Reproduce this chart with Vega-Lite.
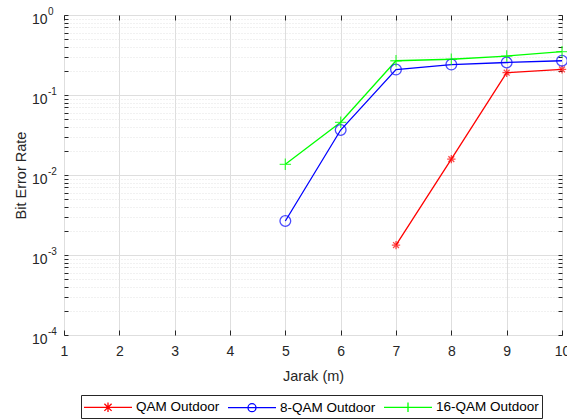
{
  "$schema": "https://vega.github.io/schema/vega-lite/v6.json",
  "width": 498,
  "height": 320,
  "autosize": {"type": "none"},
  "padding": {"left": 64, "top": 15, "right": 5, "bottom": 84},
  "background": "white",
  "config": {
    "font": "Liberation Sans",
    "view": {"stroke": "#262626", "strokeWidth": 1},
    "axis": {
      "labelFont": "Liberation Sans",
      "titleFont": "Liberation Sans",
      "labelColor": "#262626",
      "titleColor": "#262626",
      "labelFontSize": 14,
      "titleFontSize": 14.5,
      "titleFontWeight": "normal",
      "domainColor": "#262626",
      "tickColor": "#262626",
      "gridColor": "#dedede",
      "gridWidth": 1
    }
  },
  "datasets": {
    "ber": [
      {"series": "QAM Outdoor", "x": 7, "y": 0.00133},
      {"series": "QAM Outdoor", "x": 8, "y": 0.0158},
      {"series": "QAM Outdoor", "x": 9, "y": 0.19},
      {"series": "QAM Outdoor", "x": 10, "y": 0.209},
      {"series": "8-QAM Outdoor", "x": 5, "y": 0.00266},
      {"series": "8-QAM Outdoor", "x": 6, "y": 0.0365},
      {"series": "8-QAM Outdoor", "x": 7, "y": 0.208},
      {"series": "8-QAM Outdoor", "x": 8, "y": 0.24},
      {"series": "8-QAM Outdoor", "x": 9, "y": 0.255},
      {"series": "8-QAM Outdoor", "x": 10, "y": 0.268},
      {"series": "16-QAM Outdoor", "x": 5, "y": 0.0136},
      {"series": "16-QAM Outdoor", "x": 6, "y": 0.0456},
      {"series": "16-QAM Outdoor", "x": 7, "y": 0.268},
      {"series": "16-QAM Outdoor", "x": 8, "y": 0.28},
      {"series": "16-QAM Outdoor", "x": 9, "y": 0.307},
      {"series": "16-QAM Outdoor", "x": 10, "y": 0.348}
    ],
    "exps": [
      {"y": 1, "e": "0"},
      {"y": 0.1, "e": "-1"},
      {"y": 0.01, "e": "-2"},
      {"y": 0.001, "e": "-3"},
      {"y": 0.0001, "e": "-4"}
    ]
  },
  "data": {"name": "ber"},
  "layer": [
    {
      "mark": {"type": "line", "strokeWidth": 1.3, "clip": true},
      "encoding": {
        "x": {"field": "x", "type": "quantitative",
          "scale": {"domain": [1, 10], "nice": false, "zero": false},
          "axis": {"title": "Jarak (m)", "values": [1,2,3,4,5,6,7,8,9,10], "tickSize": -5, "labelPadding": 14, "titlePadding": 11, "domain": false, "labelFlush": false}},
        "y": {"field": "y", "type": "quantitative",
          "scale": {"type": "log", "domain": [0.0001, 1], "nice": false},
          "axis": {"title": "Bit Error Rate", "titlePadding": 3, "domain": false,
            "values": [0.0001,0.0002,0.0003,0.0004,0.0005,0.0006,0.0007,0.0008,0.0009,0.001,0.002,0.003,0.004,0.005,0.006,0.007,0.008,0.009,0.01,0.02,0.03,0.04,0.05,0.06,0.07,0.08,0.09,0.1,0.2,0.3,0.4,0.5,0.6,0.7,0.8,0.9,1],
            "tickSize": -4, "labelPadding": 21, "labelOffset": 4, "labelFlush": false,
            "labelExpr": "indexof([1,0.1,0.01,0.001,0.0001], datum.value) >= 0 ? '10' : ''",
            "gridDash": {"condition": {"test": "indexof([1,0.1,0.01,0.001,0.0001], datum.value) >= 0", "value": []}, "value": [1, 2]},
            "gridColor": {"condition": {"test": "indexof([1,0.1,0.01,0.001,0.0001], datum.value) >= 0", "value": "#dedede"}, "value": "#e3e3e3"}}},
        "color": {"field": "series", "type": "nominal",
          "scale": {"domain": ["QAM Outdoor", "8-QAM Outdoor", "16-QAM Outdoor"], "range": ["#ff0000", "#0000ff", "#00ff00"]},
          "legend": {
            "title": null, "orient": "none", "legendX": 17, "legendY": 380,
            "direction": "horizontal", "strokeColor": "#262626", "fillColor": "white",
            "padding": 3, "labelFont": "Liberation Sans", "labelFontSize": 13.5, "labelColor": "#000000",
            "symbolSize": 256, "symbolOffset": 15, "labelOffset": 19, "columnPadding": 5,
            "symbolStrokeWidth": 1.3,
            "encode": {"symbols": {"update": {
              "shape": {"signal": "datum.value == 'QAM Outdoor' ? 'M-3,0H3M0,-0.6V0.6M-0.45,-0.45L0.45,0.45M-0.45,0.45L0.45,-0.45' : datum.value == '8-QAM Outdoor' ? 'M-3,0H3M0.5,0A0.5,0.5 0 1,1 -0.5,0A0.5,0.5 0 1,1 0.5,0' : 'M-3,0H3M0,-0.6V0.6'"},
              "fill": {"value": "transparent"},
              "strokeWidth": {"value": 1.3}
            }}}
          }}
      }
    },
    {
      "transform": [{"filter": "datum.series == 'QAM Outdoor'"}],
      "mark": {"type": "point", "filled": false, "strokeWidth": 1.3, "size": 70, "shape": "M-1,0H1M0,-1V1M-0.7,-0.7L0.7,0.7M-0.7,0.7L0.7,-0.7"},
      "encoding": {
        "x": {"field": "x", "type": "quantitative", "axis": null},
        "y": {"field": "y", "type": "quantitative", "axis": null},
        "color": {"field": "series", "type": "nominal", "legend": null}
      }
    },
    {
      "transform": [{"filter": "datum.series == '8-QAM Outdoor'"}],
      "mark": {"type": "point", "filled": false, "strokeWidth": 1.3, "size": 115, "shape": "circle"},
      "encoding": {
        "x": {"field": "x", "type": "quantitative", "axis": null},
        "y": {"field": "y", "type": "quantitative", "axis": null},
        "color": {"field": "series", "type": "nominal", "legend": null}
      }
    },
    {
      "transform": [{"filter": "datum.series == '16-QAM Outdoor'"}],
      "mark": {"type": "point", "filled": false, "strokeWidth": 1.3, "size": 130, "shape": "M-1,0H1M0,-1V1"},
      "encoding": {
        "x": {"field": "x", "type": "quantitative", "axis": null},
        "y": {"field": "y", "type": "quantitative", "axis": null},
        "color": {"field": "series", "type": "nominal", "legend": null}
      }
    },
    {
      "data": {"name": "exps"},
      "mark": {"type": "text", "align": "left", "baseline": "middle", "dx": -16, "dy": -3, "fontSize": 10, "font": "Liberation Sans", "color": "#262626", "clip": false},
      "encoding": {
        "x": {"datum": 1, "type": "quantitative", "axis": null},
        "y": {"field": "y", "type": "quantitative", "axis": null},
        "text": {"field": "e", "type": "nominal"}
      }
    },
    {
      "mark": {"type": "point", "opacity": 0},
      "encoding": {
        "x": {"field": "x", "type": "quantitative",
          "axis": {"orient": "top", "title": null, "labels": false, "grid": false, "domain": false, "values": [1,2,3,4,5,6,7,8,9,10], "tickSize": -5}},
        "y": {"field": "y", "type": "quantitative",
          "axis": {"orient": "right", "title": null, "labels": false, "grid": false, "domain": false, "tickSize": -4,
            "values": [0.0001,0.0002,0.0003,0.0004,0.0005,0.0006,0.0007,0.0008,0.0009,0.001,0.002,0.003,0.004,0.005,0.006,0.007,0.008,0.009,0.01,0.02,0.03,0.04,0.05,0.06,0.07,0.08,0.09,0.1,0.2,0.3,0.4,0.5,0.6,0.7,0.8,0.9,1]}}
      }
    }
  ],
  "resolve": {"axis": {"x": "independent", "y": "independent"}}
}
